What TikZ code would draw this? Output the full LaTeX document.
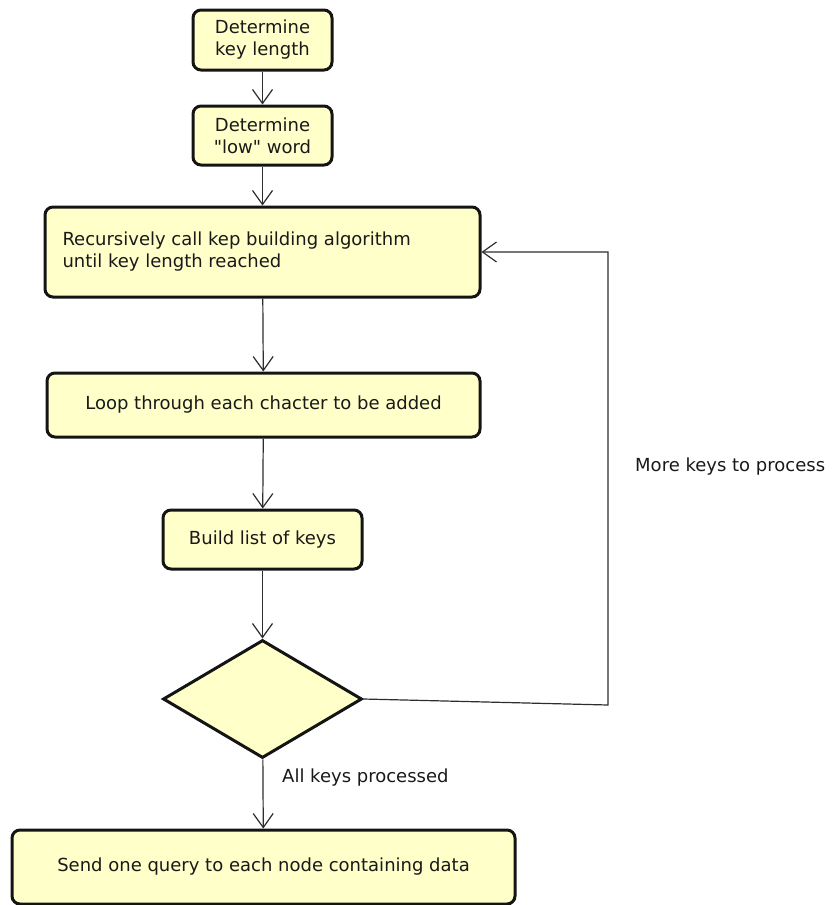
\documentclass[tikz,border=0pt]{standalone}
\usepackage{fontspec}
\newfontfamily\uifont{DejaVu Sans}
\usetikzlibrary{shapes.geometric,arrows.meta}
\definecolor{actfill}{RGB}{255,255,202}
\definecolor{actline}{RGB}{20,20,20}
\definecolor{flowline}{RGB}{45,45,45}
\definecolor{txt}{RGB}{25,25,25}
\begin{document}
\begin{tikzpicture}[x=1pt,y=-1pt,
  action/.style={draw=actline, fill=actfill, line width=3pt, rounded corners=8pt,
    inner sep=0pt, text=txt, font=\uifont\fontsize{18}{22}\selectfont},
  choice/.style={draw=actline, fill=actfill, line width=3pt, diamond, inner sep=0pt},
  flow/.style={draw=flowline, line width=1.2pt,
    -{Straight Barb[length=14pt,width=20pt,line width=1.2pt]}},
  guard/.style={text=txt, font=\uifont\fontsize{18}{22}\selectfont, anchor=west, inner sep=0pt}]
\useasboundingbox (0,0) rectangle (840,905);

% activity boxes, top to bottom
\node[action, minimum width=139, minimum height=60, align=center] (klen) at (262.5,40)
  {Determine\\key length};
\node[action, minimum width=139, minimum height=59, align=center] (low) at (262.5,135.5)
  {Determine\\"low" word};
\node[action, minimum width=435, minimum height=90] (rec) at (262.5,252)
  {\parbox{400pt}{\raggedright Recursively call kep building algorithm\\until key length reached}};
\node[action, minimum width=433, minimum height=64] (loop) at (263.5,405)
  {Loop through each chacter to be added};
\node[action, minimum width=199, minimum height=59] (build) at (262.5,539.5)
  {Build list of keys};
\node[choice, minimum width=199, minimum height=118] (dec) at (262.5,699) {};
\node[action, minimum width=503, minimum height=74] (send) at (263.5,867)
  {Send one query to each node containing data};

% corners of the loop-back path
\coordinate (lb) at (608,705);
\coordinate (lt) at (608,252);

% control flow
\draw[flow] (klen) -- (low);
\draw[flow] (low) -- (rec);
\draw[flow] (rec) -- (loop);
\draw[flow] (loop) -- (build);
\draw[flow] (build) -- (dec);
\draw[flow] (dec) -- (send);
\draw[flow] (dec.east) -- (lb) -- (lt) -- (rec.east);

% guards
\node[guard] (more) at (635,467) {More keys to process};
\node[guard] (done) at (282,778) {All keys processed};
\end{tikzpicture}
\end{document}
